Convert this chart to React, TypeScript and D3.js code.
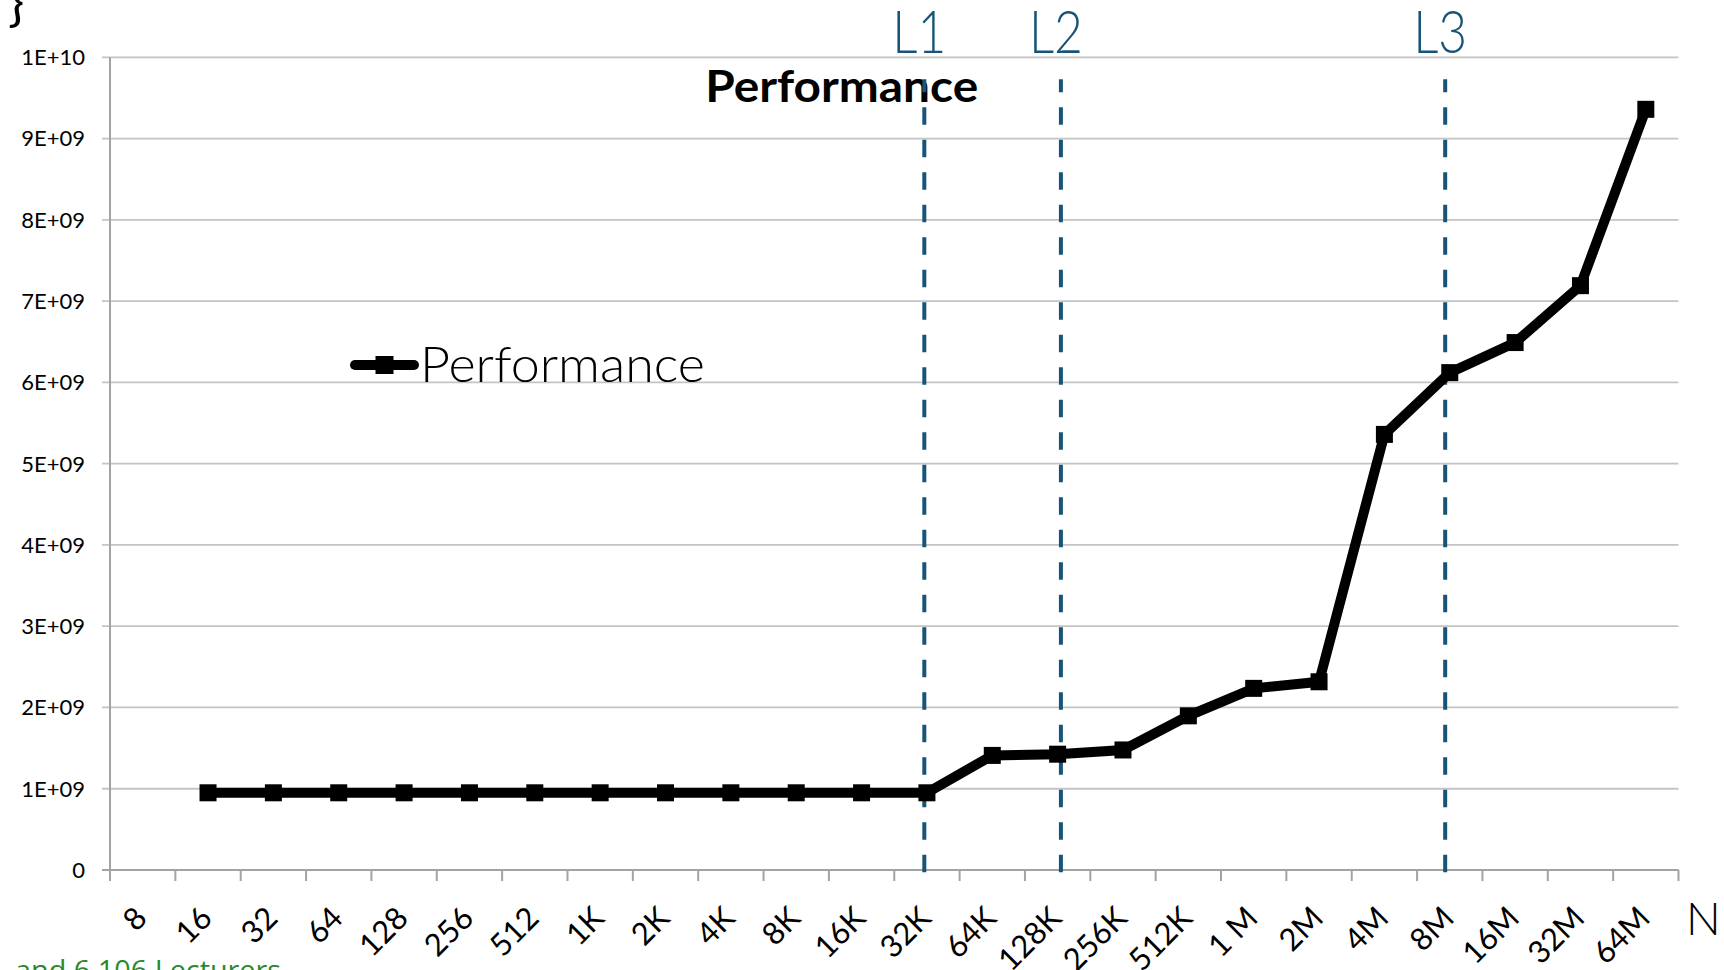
import React from "react";
import * as d3 from "d3";

// Problem sizes along the x axis (the first size has no measurement)
const sizes = [
  "8", "16", "32", "64", "128", "256", "512",
  "1K", "2K", "4K", "8K", "16K", "32K", "64K", "128K", "256K", "512K",
  "1 M", "2M", "4M", "8M", "16M", "32M", "64M",
];

// Measured performance per size
const performance: (number | null)[] = [
  null, 0.95e9, 0.95e9, 0.95e9, 0.95e9, 0.95e9, 0.95e9,
  0.95e9, 0.95e9, 0.95e9, 0.95e9, 0.95e9, 0.95e9, 1.41e9, 1.425e9, 1.477e9, 1.897e9,
  2.235e9, 2.316e9, 5.36e9, 6.12e9, 6.49e9, 7.19e9, 9.36e9,
];

// Y-axis ticks and their labels
const yTicks = [0, 1e9, 2e9, 3e9, 4e9, 5e9, 6e9, 7e9, 8e9, 9e9, 1e10];
const yTickLabels = ["0", "1E+09", "2E+09", "3E+09", "4E+09", "5E+09", "6E+09", "7E+09", "8E+09", "9E+09", "1E+10"];

// Cache-level boundaries: size at which each level fills up (fractional nudge in bands)
const cacheNames = ["L1", "L2", "L3"];
const cacheSizes = ["32K", "128K", "8M"];
const cacheNudge = [-0.04, 0.05, -0.07];

const seriesName = "Performance";

const W = 1724;
const H = 970;
const left = 110;
const right = 1678.5;
const top = 57.3;
const bottom = 870;

const GRID = "#c4c4c4";
const AXIS = "#a3a3a3";
const CACHE = "#175478";
const FONT = "Lato, 'Open Sans', sans-serif";

export default function App() {
  const x = d3.scaleBand<string>().domain(sizes).range([left, right]).padding(0);
  const y = d3.scaleLinear().domain([0, 1e10]).range([bottom, top]);
  const bw = x.bandwidth();
  const cx = (s: string) => (x(s) as number) + bw / 2;

  const points = sizes
    .map((s, i) => ({ s, v: performance[i] }))
    .filter((d) => d.v != null) as { s: string; v: number }[];

  const line = d3
    .line<{ s: string; v: number }>()
    .x((d) => cx(d.s))
    .y((d) => y(d.v));

  const boundaries = d3.range(sizes.length + 1).map((i) => left + i * bw);
  const marker = 17;

  return (
    <svg
      width={W}
      height={H}
      viewBox={`0 0 ${W} ${H}`}
      style={{ position: "fixed", left: 0, top: 0, background: "#fff" }}
    >
      <rect x={0} y={0} width={W} height={H} fill="#fff" />

      {/* stray brace at the top-left corner */}
      <text x={8} y={20} fontFamily={FONT} fontSize={54} fill="#000">
        {"}"}
      </text>

      {/* horizontal gridlines with their tick marks */}
      {yTicks.map((t) =>
        t === 0 ? null : (
          <line key={t} x1={left - 8} x2={right} y1={y(t)} y2={y(t)} stroke={GRID} strokeWidth={1.8} />
        )
      )}

      {/* y axis */}
      <line x1={left} x2={left} y1={top} y2={bottom} stroke={AXIS} strokeWidth={2} />
      {yTicks.map((t, i) => (
        <text
          key={"yl" + t}
          x={85}
          y={y(t)}
          dy="0.36em"
          textAnchor="end"
          fontFamily={FONT}
          fontSize={22}
          fill="#000"
        >
          {yTickLabels[i]}
        </text>
      ))}

      {/* x axis with category boundary ticks */}
      <line x1={left - 8} x2={right} y1={bottom} y2={bottom} stroke={AXIS} strokeWidth={2} />
      {boundaries.map((bx, i) => (
        <line key={"xt" + i} x1={bx} x2={bx} y1={bottom} y2={bottom + 11} stroke={AXIS} strokeWidth={2} />
      ))}
      {sizes.map((s) => (
        <text
          key={"xl" + s}
          transform={`translate(${cx(s) + 6},${bottom + 50}) rotate(-45)`}
          textAnchor="end"
          fontFamily={FONT}
          fontSize={31}
          fill="#000"
        >
          {s}
        </text>
      ))}
      <text x={1686} y={935} fontFamily={FONT} fontWeight={300} fontSize={46} fill="#000">
        N
      </text>

      {/* chart title */}
      <text
        x={841.7}
        y={101.7}
        textAnchor="middle"
        fontFamily={FONT}
        fontWeight={700}
        fontSize={44}
        textLength={273}
        lengthAdjust="spacingAndGlyphs"
        fill="#000"
      >
        {seriesName}
      </text>

      {/* cache level boundaries */}
      {cacheNames.map((name, i) => {
        const lx = cx(cacheSizes[i]) + cacheNudge[i] * bw;
        return (
          <g key={name}>
            <line
              x1={lx}
              x2={lx}
              y1={top + 22}
              y2={bottom + 7}
              stroke={CACHE}
              strokeWidth={4}
              strokeDasharray="17.5 15"
              strokeDashoffset={4.5}
            />
            <text
              x={lx - 5}
              y={53.3}
              textAnchor="middle"
              fontFamily={FONT}
              fontWeight={300}
              fontSize={60}
              textLength={54}
              lengthAdjust="spacingAndGlyphs"
              fill={CACHE}
            >
              {name}
            </text>
          </g>
        );
      })}

      {/* performance series */}
      <path
        d={line(points) || ""}
        fill="none"
        stroke="#000"
        strokeWidth={10}
        strokeLinejoin="miter"
        strokeMiterlimit={4}
      />
      {points.map((d) => (
        <rect
          key={"m" + d.s}
          x={cx(d.s) - marker / 2}
          y={y(d.v) - marker / 2}
          width={marker}
          height={marker}
          fill="#000"
        />
      ))}

      {/* legend */}
      <line x1={355} x2={414} y1={365} y2={365} stroke="#000" strokeWidth={10} strokeLinecap="round" />
      <rect x={384.5 - 9} y={365 - 9} width={18} height={18} fill="#000" />
      <text
        x={420}
        y={381.7}
        fontFamily={FONT}
        fontWeight={300}
        fontSize={50}
        textLength={285}
        lengthAdjust="spacingAndGlyphs"
        fill="#000"
      >
        {seriesName}
      </text>

      {/* caption running off the bottom edge */}
      <text
        x={15}
        y={980}
        fontFamily="'Open Sans', sans-serif"
        fontSize={28}
        textLength={266}
        lengthAdjust="spacingAndGlyphs"
        fill="#2a8a2a"
      >
        and 6.106 Lecturers
      </text>
    </svg>
  );
}
